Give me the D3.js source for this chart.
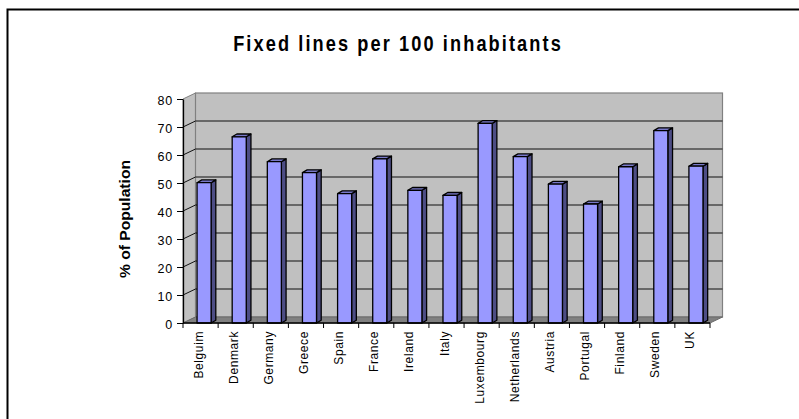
<!DOCTYPE html>
<html>
<head>
<meta charset="utf-8">
<script src="https://cdn.jsdelivr.net/npm/d3@7"></script>
<style>
  html, body { margin: 0; padding: 0; background: #fff; }
  svg { display: block; }
  text { font-family: "Liberation Sans", Arial, sans-serif; fill: #000; }
</style>
</head>
<body>
<svg id="chart" width="799" height="419"></svg>
<script>
// Fixed telephone lines per 100 inhabitants, by country
const categories = ["Belguim", "Denmark", "Germany", "Greece", "Spain", "France", "Ireland",
  "Italy", "Luxembourg", "Netherlands", "Austria", "Portugal", "Finland", "Sweden", "UK"];
const values = [50.1, 66.5, 57.6, 53.7, 46.2, 58.6, 47.4, 45.6, 71.3, 59.4, 49.6, 42.5, 55.8, 68.7, 56.0];
const yTicks = [0, 10, 20, 30, 40, 50, 60, 70, 80];
const titleText = "Fixed lines per 100 inhabitants";
const yTitleText = "% of Population";

const svg = d3.select("#chart");

// outer frame
svg.append("rect")
  .attr("x", 7.5).attr("y", 9.5)
  .attr("width", 820).attr("height", 440)
  .attr("fill", "#fff").attr("stroke", "#000").attr("stroke-width", 2);

// front plane scales
const x = d3.scaleBand().domain(categories).range([183, 710]).padding(0);
const y = d3.scaleLinear().domain([0, 80]).range([323, 99]);

// wall depth and bar depth offsets (oblique projection)
const dx = 12.5, dy = -6;
const bdx = 4.7, bdy = -2.8;

const x0 = x.range()[0], x1 = x.range()[1];
const yTop = y(80), yBot = y(0);

// left side wall
svg.append("path")
  .attr("d", `M${x0},${yBot} L${x0},${yTop} L${x0 + dx},${yTop + dy} L${x0 + dx},${yBot + dy} Z`)
  .attr("fill", "#c0c0c0").attr("stroke", "#808080").attr("stroke-width", 1);

// back wall
svg.append("rect")
  .attr("x", x0 + dx).attr("y", yTop + dy)
  .attr("width", x1 - x0).attr("height", yBot - yTop)
  .attr("fill", "#c0c0c0").attr("stroke", "#808080").attr("stroke-width", 1.2);

// gridlines on side wall and back wall
const grid = svg.append("g").attr("stroke", "#111").attr("stroke-width", 1).attr("fill", "none");
yTicks.filter(v => v > 0 && v < 80).forEach(v => {
  grid.append("path")
    .attr("d", `M${x0},${y(v)} L${x0 + dx},${y(v) + dy} L${x1 + dx},${y(v) + dy}`);
});

// floor
svg.append("path")
  .attr("d", `M${x0},${yBot} L${x1},${yBot} L${x1 + dx},${yBot + dy} L${x0 + dx},${yBot + dy} Z`)
  .attr("fill", "#808080").attr("stroke", "#6a6a6a").attr("stroke-width", 1);

// 3D columns
const bw = x.bandwidth();
const bars = svg.append("g").selectAll("g").data(categories).join("g")
  .attr("stroke", "#000").attr("stroke-width", 1.3).attr("stroke-linejoin", "round");

bars.each(function (c, i) {
  const g = d3.select(this);
  const left = x(c) + 0.4 * bw;
  const w = 0.4 * bw;
  const top = y(values[i]);
  // side face
  g.append("path")
    .attr("d", `M${left + w},${yBot} L${left + w},${top} L${left + w + bdx},${top + bdy} L${left + w + bdx},${yBot + bdy} Z`)
    .attr("fill", "#4d4d85");
  // top face
  g.append("path")
    .attr("d", `M${left},${top} L${left + w},${top} L${left + w + bdx},${top + bdy} L${left + bdx},${top + bdy} Z`)
    .attr("fill", "#7878c8");
  // front face
  g.append("rect")
    .attr("x", left).attr("y", top)
    .attr("width", w).attr("height", yBot - top)
    .attr("fill", "#9999ff");
});

// value axis
const yAxis = svg.append("g")
  .attr("transform", `translate(${x0},0)`)
  .call(d3.axisLeft(y).tickValues(yTicks).tickSize(6).tickPadding(4).tickSizeOuter(0));
yAxis.select(".domain").attr("stroke", "#000").attr("stroke-width", 1.3);
yAxis.selectAll(".tick line").attr("stroke", "#000").attr("stroke-width", 1);
yAxis.selectAll(".tick text")
  .attr("font-size", 12.5).attr("font-family", "Liberation Sans, Arial, sans-serif")
  .attr("letter-spacing", "0.8px")
  .attr("dy", "0.45em");

// category axis: baseline and boundary ticks
svg.append("line")
  .attr("x1", x0).attr("x2", x1).attr("y1", yBot).attr("y2", yBot)
  .attr("stroke", "#000").attr("stroke-width", 1.3);
const bounds = categories.map(c => x(c)).concat([x1]);
svg.append("g").selectAll("line").data(bounds).join("line")
  .attr("x1", d => d).attr("x2", d => d)
  .attr("y1", yBot).attr("y2", yBot + 5)
  .attr("stroke", "#000").attr("stroke-width", 1);

// category labels
svg.append("g").selectAll("text").data(categories).join("text")
  .attr("transform", c => `translate(${x(c) + bw / 2 + 2},331) rotate(-90)`)
  .attr("text-anchor", "end")
  .attr("font-size", 12)
  .attr("letter-spacing", "0.6px")
  .text(c => c);

// chart title: bold, spaced out and horizontally condensed
const title = svg.append("text")
  .attr("text-anchor", "middle")
  .attr("font-size", 22.5).attr("font-weight", "bold")
  .attr("letter-spacing", "2.6px")
  .text(titleText);
const natural = title.node().getComputedTextLength();
title.attr("transform", `translate(398,51) scale(${330 / natural},1)`);

// value axis title
svg.append("text")
  .attr("transform", "translate(130,219) rotate(-90)")
  .attr("text-anchor", "middle")
  .attr("font-size", 15.5).attr("font-weight", "bold")
  .attr("textLength", 118).attr("lengthAdjust", "spacingAndGlyphs")
  .text(yTitleText);
</script>
</body>
</html>
